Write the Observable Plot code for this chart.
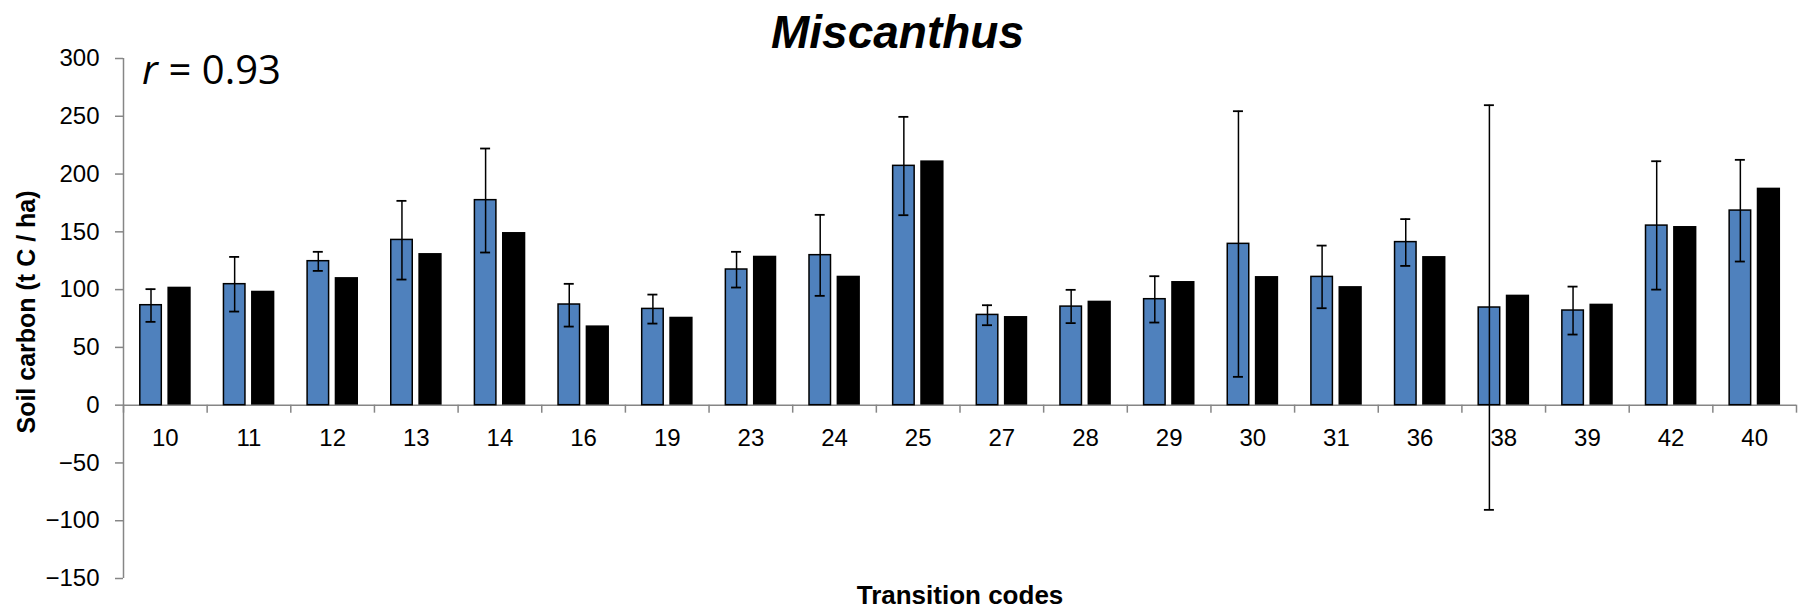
<!DOCTYPE html>
<html>
<head>
<meta charset="utf-8">
<script src="https://cdn.jsdelivr.net/npm/d3@7"></script>
<script src="https://cdn.jsdelivr.net/npm/@observablehq/plot@0.6"></script>
<style>
  html, body { margin: 0; padding: 0; background: #fff; }
  #chart { width: 1804px; height: 607px; }
</style>
</head>
<body>
<div id="chart"></div>
<script>
// ---- Data ----
const codes = ["10","11","12","13","14","16","19","23","24","25","27","28","29","30","31","36","38","39","42","40"];
const observed  = [86.5, 104.7, 124.6, 143.0, 177.4, 87.1, 83.3, 117.4, 129.8, 207.1, 78.1, 85.3, 91.7, 139.6, 111.0, 141.1, 84.5, 81.9, 155.4, 168.4];
const errHigh   = [100.4, 128.3, 132.7, 176.8, 222.1, 105.0, 95.7, 132.7, 164.7, 249.5, 86.5, 99.8, 111.6, 254.4, 138.1, 161.0, 259.6, 102.6, 211.1, 212.3];
const errLow    = [72.1, 81.0, 116.2, 108.7, 132.1, 68.0, 70.6, 101.8, 94.6, 164.4, 69.2, 71.0, 71.5, 24.5, 83.9, 120.5, -90.6, 61.1, 100.0, 124.3];
const predicted = [102.1, 98.6, 110.4, 131.2, 149.4, 68.6, 76.1, 128.9, 111.6, 211.4, 76.7, 90.0, 107.0, 111.3, 102.6, 128.6, 95.2, 87.4, 154.6, 187.8];
const yTicks = [-150, -100, -50, 0, 50, 100, 150, 200, 250, 300];
const titleText = "Miscanthus";
const rSymbol = "r";
const rValue = "= 0.93";
const yLabel = "Soil carbon (t C / ha)";
const xLabel = "Transition codes";

// ---- Layout ----
const W = 1804, H = 607, ML = 123, MR = 8, MT = 58, MB = 29;
const bw = (W - ML - MR) / codes.length;
const axisGray = "#868686";
const blueLeft = 16.8, blueRight = 38.3;   // within a category band
const blackLeft = 44.4, blackRight = 67.7;
const blueCenter = 27.5;
const capHalf = 5;

const rows = codes.map((code, i) => ({
  code, observed: observed[i], predicted: predicted[i], low: errLow[i], high: errHigh[i]
}));

const chart = Plot.plot({
  width: W, height: H,
  marginLeft: ML, marginRight: MR, marginTop: MT, marginBottom: MB,
  style: { fontFamily: "'Liberation Sans', Arial, sans-serif", fontSize: "24px", color: "black", background: "white", overflow: "visible" },
  x: { type: "band", domain: codes, padding: 0, round: false, axis: null },
  y: { domain: [-150, 300], axis: null, label: null },
  marks: [
    // x axis line at zero
    Plot.ruleY([0], { stroke: axisGray, strokeWidth: 1.5 }),
    // category boundary ticks
    Plot.ruleX(codes, { x: d => d, dx: -bw / 2, y1: () => 0, y2: () => 0, insetBottom: -8, stroke: axisGray, strokeWidth: 1.5 }),
    Plot.ruleX([codes[codes.length - 1]], { x: d => d, dx: bw / 2, y1: () => 0, y2: () => 0, insetBottom: -8, stroke: axisGray, strokeWidth: 1.5 }),
    // y axis line
    Plot.ruleX([codes[0]], { x: d => d, dx: -bw / 2, y1: () => -150, y2: () => 300, stroke: axisGray, strokeWidth: 1.5 }),
    // y axis ticks + labels
    Plot.axisY(yTicks, { tickSize: 8, tickPadding: 16, stroke: axisGray, strokeWidth: 1.5, fill: "black", fontSize: 24, label: null }),
    // bars
    Plot.barY(rows, { x: "code", y: "observed", fill: "#4F81BD", stroke: "black", strokeWidth: 1.5,
      insetLeft: blueLeft, insetRight: bw - blueRight }),
    Plot.barY(rows, { x: "code", y: "predicted", fill: "black",
      insetLeft: blackLeft, insetRight: bw - blackRight }),
    // error bars
    Plot.ruleX(rows, { x: "code", y1: "low", y2: "high", dx: blueCenter - bw / 2, stroke: "black", strokeWidth: 1.5 }),
    Plot.tickY(rows, { x: "code", y: "high", insetLeft: blueCenter - capHalf, insetRight: bw - blueCenter - capHalf, stroke: "black", strokeWidth: 1.8 }),
    Plot.tickY(rows, { x: "code", y: "low", insetLeft: blueCenter - capHalf, insetRight: bw - blueCenter - capHalf, stroke: "black", strokeWidth: 1.8 }),
    // category labels just under the zero line
    Plot.text(codes, { x: d => d, y: () => 0, dy: 24, lineAnchor: "top", fontSize: 24, fill: "black" }),
    // title
    Plot.text([titleText], { frameAnchor: "top-left", dx: 897 - ML, dy: 47 - MT, textAnchor: "middle", lineAnchor: "bottom",
      fontSize: 46, fontWeight: "bold", fontStyle: "italic", fill: "black" }),
    // r annotation
    Plot.text([rSymbol], { frameAnchor: "top-left", dx: 141.5 - ML, dy: 83.3 - MT, textAnchor: "start", lineAnchor: "bottom",
      fontFamily: "'Open Sans', sans-serif", fontStyle: "italic", fontSize: 40, fill: "black" }),
    Plot.text([rValue], { frameAnchor: "top-left", dx: 168 - ML, dy: 83.3 - MT, textAnchor: "start", lineAnchor: "bottom",
      fontFamily: "'Open Sans', sans-serif", fontSize: 40, fill: "black" }),
    // axis titles
    Plot.text([yLabel], { frameAnchor: "left", dx: 26 - ML, dy: 311.5 - (MT + (H - MT - MB) / 2), rotate: -90,
      textAnchor: "middle", lineAnchor: "middle", fontSize: 25, fontWeight: "bold", fill: "black" }),
    Plot.text([xLabel], { frameAnchor: "bottom", dy: 25, lineAnchor: "bottom", fontSize: 26, fontWeight: "bold", fill: "black" })
  ]
});

document.getElementById("chart").appendChild(chart);
</script>
</body>
</html>
